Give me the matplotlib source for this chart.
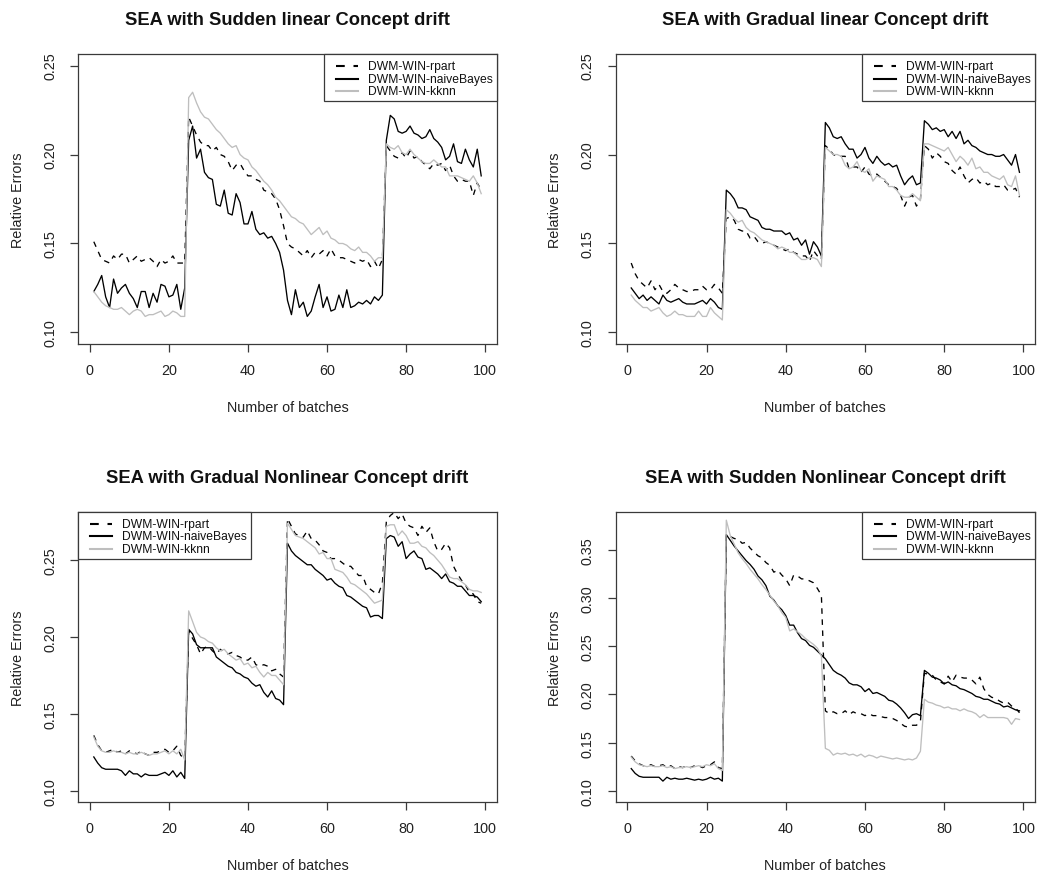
import numpy as np
import matplotlib
matplotlib.use("Agg")
import matplotlib.pyplot as plt
from matplotlib.patches import Rectangle
from matplotlib.lines import Line2D

plt.rcParams['font.family'] = ['Liberation Sans', 'DejaVu Sans']

# ---------------------------------------------------------------- data
batches = np.arange(1, 100)
series_names = ["DWM-WIN-rpart", "DWM-WIN-naiveBayes", "DWM-WIN-kknn"]

sudden_linear_rpart = [
    0.151, 0.146, 0.141, 0.140, 0.139, 0.143, 0.141, 0.144, 0.144, 0.139, 0.141, 0.143,
    0.140, 0.141, 0.142, 0.140, 0.137, 0.141, 0.139, 0.140, 0.143, 0.139, 0.139, 0.139,
    0.221, 0.216, 0.211, 0.207, 0.205, 0.205, 0.202, 0.204, 0.200, 0.199, 0.196, 0.191,
    0.194, 0.195, 0.191, 0.188, 0.188, 0.186, 0.185, 0.180, 0.179, 0.178, 0.175, 0.169, 0.160,
    0.150, 0.148, 0.147, 0.145, 0.143, 0.146, 0.142, 0.145, 0.144, 0.146, 0.143, 0.147,
    0.143, 0.142, 0.142, 0.141, 0.140, 0.139, 0.141, 0.140, 0.141, 0.137, 0.140, 0.136, 0.141,
    0.205, 0.202, 0.199, 0.198, 0.201, 0.198, 0.202, 0.198, 0.199, 0.196, 0.194, 0.192,
    0.195, 0.194, 0.195, 0.191, 0.194, 0.188, 0.185, 0.186, 0.185, 0.185, 0.177, 0.184, 0.180]
sudden_linear_nb = [
    0.123, 0.127, 0.132, 0.120, 0.114, 0.130, 0.122, 0.125, 0.127, 0.122, 0.119, 0.114,
    0.123, 0.123, 0.114, 0.122, 0.117, 0.127, 0.126, 0.120, 0.121, 0.127, 0.113, 0.125,
    0.208, 0.216, 0.198, 0.203, 0.190, 0.187, 0.186, 0.172, 0.171, 0.180, 0.167, 0.166,
    0.178, 0.173, 0.161, 0.161, 0.168, 0.158, 0.155, 0.156, 0.153, 0.154, 0.150, 0.145, 0.135,
    0.118, 0.110, 0.124, 0.114, 0.117, 0.109, 0.112, 0.120, 0.127, 0.114, 0.120, 0.112,
    0.113, 0.121, 0.114, 0.124, 0.114, 0.115, 0.117, 0.116, 0.118, 0.116, 0.120, 0.118, 0.121,
    0.208, 0.222, 0.220, 0.213, 0.212, 0.213, 0.216, 0.212, 0.211, 0.209, 0.210, 0.214,
    0.209, 0.207, 0.204, 0.197, 0.199, 0.206, 0.196, 0.195, 0.203, 0.197, 0.193, 0.203, 0.188]
sudden_linear_kknn = [
    0.123, 0.120, 0.117, 0.115, 0.114, 0.113, 0.113, 0.114, 0.112, 0.110, 0.112, 0.113,
    0.112, 0.109, 0.110, 0.110, 0.111, 0.112, 0.109, 0.110, 0.112, 0.111, 0.109, 0.109,
    0.232, 0.235, 0.229, 0.224, 0.221, 0.220, 0.217, 0.214, 0.212, 0.209, 0.206, 0.204,
    0.205, 0.200, 0.198, 0.197, 0.193, 0.191, 0.188, 0.185, 0.183, 0.180, 0.176, 0.174, 0.171,
    0.168, 0.165, 0.164, 0.162, 0.161, 0.158, 0.155, 0.157, 0.159, 0.155, 0.157, 0.153,
    0.152, 0.150, 0.150, 0.149, 0.147, 0.146, 0.148, 0.145, 0.145, 0.143, 0.140, 0.142, 0.142,
    0.206, 0.204, 0.203, 0.205, 0.201, 0.200, 0.203, 0.200, 0.198, 0.196, 0.195, 0.195,
    0.197, 0.195, 0.193, 0.193, 0.188, 0.188, 0.188, 0.187, 0.186, 0.185, 0.188, 0.184, 0.178]

gradual_linear_rpart = [
    0.139, 0.133, 0.129, 0.127, 0.125, 0.129, 0.124, 0.127, 0.123, 0.122, 0.124, 0.127,
    0.125, 0.124, 0.123, 0.123, 0.124, 0.124, 0.126, 0.124, 0.124, 0.127, 0.125, 0.122,
    0.164, 0.165, 0.163, 0.158, 0.157, 0.157, 0.153, 0.154, 0.151, 0.150, 0.151, 0.150,
    0.149, 0.148, 0.147, 0.146, 0.147, 0.145, 0.144, 0.143, 0.143, 0.140, 0.146, 0.143, 0.141,
    0.205, 0.203, 0.200, 0.199, 0.199, 0.199, 0.192, 0.193, 0.193, 0.190, 0.193, 0.189,
    0.188, 0.189, 0.187, 0.185, 0.183, 0.182, 0.181, 0.177, 0.171, 0.176, 0.177, 0.171, 0.175,
    0.205, 0.203, 0.198, 0.201, 0.199, 0.196, 0.195, 0.191, 0.189, 0.193, 0.188, 0.184,
    0.186, 0.187, 0.184, 0.185, 0.183, 0.184, 0.182, 0.182, 0.183, 0.180, 0.180, 0.181, 0.176]
gradual_linear_nb = [
    0.125, 0.122, 0.119, 0.121, 0.118, 0.120, 0.118, 0.116, 0.121, 0.118, 0.117, 0.118,
    0.119, 0.117, 0.116, 0.116, 0.116, 0.117, 0.118, 0.116, 0.119, 0.117, 0.114, 0.113,
    0.180, 0.178, 0.175, 0.170, 0.170, 0.169, 0.165, 0.164, 0.163, 0.159, 0.158, 0.158,
    0.157, 0.157, 0.157, 0.155, 0.156, 0.152, 0.153, 0.149, 0.152, 0.144, 0.151, 0.148, 0.143,
    0.218, 0.215, 0.210, 0.209, 0.210, 0.206, 0.203, 0.203, 0.198, 0.200, 0.204, 0.198,
    0.195, 0.199, 0.196, 0.194, 0.195, 0.193, 0.194, 0.188, 0.183, 0.186, 0.188, 0.183, 0.184,
    0.219, 0.217, 0.214, 0.215, 0.213, 0.214, 0.210, 0.213, 0.209, 0.213, 0.206, 0.208,
    0.205, 0.204, 0.202, 0.201, 0.200, 0.200, 0.199, 0.199, 0.200, 0.197, 0.194, 0.200, 0.190]
gradual_linear_kknn = [
    0.121, 0.118, 0.116, 0.114, 0.114, 0.112, 0.113, 0.114, 0.111, 0.109, 0.110, 0.112,
    0.110, 0.110, 0.109, 0.109, 0.109, 0.112, 0.109, 0.109, 0.114, 0.111, 0.109, 0.107,
    0.169, 0.167, 0.164, 0.162, 0.163, 0.159, 0.157, 0.156, 0.154, 0.152, 0.151, 0.150,
    0.149, 0.147, 0.148, 0.147, 0.145, 0.145, 0.143, 0.141, 0.141, 0.142, 0.142, 0.141, 0.137,
    0.204, 0.202, 0.200, 0.200, 0.199, 0.194, 0.192, 0.193, 0.196, 0.191, 0.190, 0.192,
    0.185, 0.188, 0.187, 0.186, 0.182, 0.182, 0.180, 0.177, 0.176, 0.176, 0.178, 0.176, 0.174,
    0.206, 0.206, 0.205, 0.204, 0.203, 0.202, 0.204, 0.200, 0.196, 0.199, 0.197, 0.194,
    0.198, 0.192, 0.193, 0.190, 0.190, 0.188, 0.187, 0.186, 0.188, 0.183, 0.182, 0.188, 0.177]

gradual_nonlinear_rpart = [
    0.136, 0.130, 0.126, 0.125, 0.126, 0.127, 0.125, 0.126, 0.124, 0.126, 0.125, 0.124,
    0.126, 0.124, 0.123, 0.125, 0.125, 0.126, 0.127, 0.125, 0.126, 0.129, 0.123, 0.121,
    0.204, 0.199, 0.195, 0.189, 0.193, 0.194, 0.191, 0.189, 0.192, 0.190, 0.189, 0.190,
    0.188, 0.187, 0.185, 0.185, 0.187, 0.182, 0.181, 0.182, 0.181, 0.178, 0.179, 0.176, 0.174,
    0.277, 0.272, 0.267, 0.266, 0.265, 0.269, 0.264, 0.263, 0.260, 0.256, 0.255, 0.251,
    0.251, 0.250, 0.248, 0.246, 0.246, 0.243, 0.240, 0.240, 0.233, 0.231, 0.229, 0.228, 0.235,
    0.275, 0.279, 0.281, 0.277, 0.280, 0.274, 0.272, 0.271, 0.266, 0.272, 0.268, 0.271,
    0.262, 0.256, 0.257, 0.261, 0.258, 0.246, 0.241, 0.237, 0.234, 0.229, 0.228, 0.223, 0.222]
gradual_nonlinear_nb = [
    0.122, 0.118, 0.115, 0.114, 0.114, 0.114, 0.114, 0.113, 0.110, 0.113, 0.111, 0.111,
    0.109, 0.111, 0.110, 0.110, 0.110, 0.111, 0.112, 0.110, 0.113, 0.109, 0.112, 0.108,
    0.205, 0.202, 0.195, 0.193, 0.193, 0.193, 0.193, 0.187, 0.185, 0.183, 0.181, 0.180,
    0.177, 0.176, 0.174, 0.173, 0.170, 0.168, 0.169, 0.164, 0.161, 0.165, 0.160, 0.159, 0.156,
    0.261, 0.256, 0.253, 0.251, 0.249, 0.247, 0.247, 0.244, 0.242, 0.240, 0.237, 0.238,
    0.235, 0.233, 0.232, 0.227, 0.226, 0.224, 0.222, 0.220, 0.219, 0.213, 0.214, 0.214, 0.212,
    0.264, 0.266, 0.265, 0.259, 0.262, 0.251, 0.254, 0.256, 0.252, 0.251, 0.244, 0.245,
    0.243, 0.241, 0.238, 0.241, 0.236, 0.235, 0.233, 0.233, 0.230, 0.227, 0.227, 0.226, 0.223]
gradual_nonlinear_kknn = [
    0.135, 0.129, 0.126, 0.125, 0.125, 0.126, 0.125, 0.125, 0.124, 0.125, 0.124, 0.124,
    0.125, 0.124, 0.123, 0.124, 0.124, 0.125, 0.126, 0.124, 0.126, 0.124, 0.127, 0.120,
    0.217, 0.210, 0.203, 0.200, 0.199, 0.197, 0.196, 0.193, 0.191, 0.192, 0.189, 0.187,
    0.185, 0.186, 0.182, 0.183, 0.180, 0.181, 0.177, 0.174, 0.177, 0.175, 0.175, 0.172, 0.169,
    0.274, 0.270, 0.266, 0.265, 0.264, 0.262, 0.260, 0.258, 0.254, 0.255, 0.251, 0.251,
    0.244, 0.243, 0.242, 0.239, 0.235, 0.234, 0.232, 0.230, 0.228, 0.225, 0.222, 0.223, 0.224,
    0.272, 0.273, 0.273, 0.266, 0.269, 0.266, 0.261, 0.261, 0.262, 0.259, 0.258, 0.255,
    0.253, 0.250, 0.247, 0.243, 0.239, 0.238, 0.238, 0.236, 0.234, 0.231, 0.230, 0.230, 0.229]

sudden_nonlinear_rpart = [
    0.136, 0.131, 0.128, 0.126, 0.126, 0.127, 0.125, 0.126, 0.127, 0.124, 0.126, 0.123,
    0.125, 0.124, 0.126, 0.124, 0.126, 0.126, 0.124, 0.126, 0.127, 0.130, 0.124, 0.123,
    0.366, 0.364, 0.362, 0.361, 0.357, 0.358, 0.352, 0.348, 0.344, 0.342, 0.337, 0.334,
    0.327, 0.329, 0.324, 0.320, 0.313, 0.324, 0.323, 0.320, 0.320, 0.318, 0.316, 0.310, 0.303,
    0.183, 0.180, 0.182, 0.180, 0.180, 0.183, 0.179, 0.182, 0.180, 0.180, 0.178, 0.180,
    0.178, 0.178, 0.177, 0.176, 0.176, 0.175, 0.173, 0.170, 0.167, 0.166, 0.168, 0.168, 0.172,
    0.222, 0.221, 0.220, 0.215, 0.213, 0.211, 0.219, 0.213, 0.220, 0.218, 0.217, 0.217,
    0.215, 0.211, 0.218, 0.206, 0.200, 0.197, 0.196, 0.193, 0.191, 0.192, 0.188, 0.186, 0.181]
sudden_nonlinear_nb = [
    0.123, 0.118, 0.115, 0.114, 0.114, 0.114, 0.114, 0.114, 0.110, 0.114, 0.112, 0.113,
    0.112, 0.112, 0.113, 0.112, 0.111, 0.112, 0.111, 0.112, 0.114, 0.112, 0.113, 0.110,
    0.366, 0.360, 0.354, 0.349, 0.344, 0.339, 0.335, 0.330, 0.323, 0.319, 0.313, 0.302,
    0.298, 0.292, 0.288, 0.282, 0.272, 0.272, 0.264, 0.258, 0.256, 0.251, 0.249, 0.245, 0.241,
    0.237, 0.231, 0.225, 0.222, 0.220, 0.217, 0.212, 0.210, 0.210, 0.208, 0.203, 0.206,
    0.201, 0.202, 0.200, 0.198, 0.194, 0.193, 0.190, 0.186, 0.181, 0.175, 0.179, 0.180, 0.178,
    0.225, 0.222, 0.218, 0.217, 0.215, 0.211, 0.213, 0.210, 0.209, 0.206, 0.205, 0.203,
    0.201, 0.198, 0.197, 0.195, 0.195, 0.193, 0.191, 0.190, 0.187, 0.188, 0.186, 0.184, 0.183]
sudden_nonlinear_kknn = [
    0.135, 0.130, 0.127, 0.126, 0.125, 0.126, 0.125, 0.125, 0.126, 0.124, 0.125, 0.123,
    0.124, 0.124, 0.125, 0.124, 0.125, 0.126, 0.125, 0.127, 0.126, 0.128, 0.123, 0.121,
    0.381, 0.365, 0.356, 0.347, 0.341, 0.336, 0.330, 0.325, 0.320, 0.314, 0.309, 0.303,
    0.297, 0.292, 0.285, 0.280, 0.266, 0.268, 0.265, 0.262, 0.258, 0.255, 0.252, 0.248, 0.240,
    0.144, 0.142, 0.137, 0.139, 0.138, 0.139, 0.137, 0.138, 0.136, 0.138, 0.135, 0.137,
    0.136, 0.134, 0.136, 0.135, 0.134, 0.133, 0.134, 0.133, 0.132, 0.133, 0.132, 0.134, 0.141,
    0.195, 0.192, 0.191, 0.189, 0.188, 0.186, 0.187, 0.185, 0.185, 0.183, 0.185, 0.183,
    0.182, 0.180, 0.176, 0.179, 0.176, 0.176, 0.176, 0.176, 0.176, 0.175, 0.169, 0.175, 0.174]

titles = ["SEA with Sudden linear Concept drift",
          "SEA with Gradual linear Concept drift",
          "SEA with Gradual Nonlinear Concept drift",
          "SEA with Sudden Nonlinear Concept drift"]
x_ticks = [0, 20, 40, 60, 80, 100]
y_ticks_top = [0.10, 0.15, 0.20, 0.25]
y_ticks_sudden_nonlinear = [0.10, 0.15, 0.20, 0.25, 0.30, 0.35]

# ---------------------------------------------------------------- layout (pixels)
W, H = 1037, 878
fig = plt.figure(figsize=(W / 100, H / 100), dpi=100)
fig.patch.set_facecolor("white")

FRAME = "#3a3a3a"
GREY = "#bebebe"
LW = 0.95
DASH = (0, (4.2, 4.2))


def px_rect(l, t, r, b):
    return [l / W, 1 - b / H, (r - l) / W, (b - t) / H]


def fx(x):
    return x / W


def fy(y):
    return 1 - y / H


panels = [
    dict(rect=(78.3, 55, 496.7, 345), ylim=(0.0935, 0.2565), yticks=y_ticks_top,
         data=(sudden_linear_rpart, sudden_linear_nb, sudden_linear_kknn),
         legend=(323.7, 55)),
    dict(rect=(615.7, 55, 1035, 345), ylim=(0.0935, 0.2565), yticks=y_ticks_top,
         data=(gradual_linear_rpart, gradual_linear_nb, gradual_linear_kknn),
         legend=(862, 55)),
    dict(rect=(78.3, 512.7, 496.7, 803), ylim=(0.0927, 0.2815), yticks=y_ticks_top,
         data=(gradual_nonlinear_rpart, gradual_nonlinear_nb, gradual_nonlinear_kknn),
         legend=(78.3, 512.7)),
    dict(rect=(615.7, 512.7, 1035, 803), ylim=(0.0883, 0.3898),
         yticks=y_ticks_sudden_nonlinear,
         data=(sudden_nonlinear_rpart, sudden_nonlinear_nb, sudden_nonlinear_kknn),
         legend=(862, 512.7)),
]

styles = [dict(color="black", linestyle=DASH),
          dict(color="black", linestyle="-"),
          dict(color=GREY, linestyle="-")]


def draw_legend(left, top):
    bw, bh = 173, 47
    fig.add_artist(Rectangle((fx(left), fy(top + bh)), bw / W, bh / H,
                             transform=fig.transFigure, facecolor="white",
                             edgecolor=FRAME, linewidth=0.9, zorder=5))
    for row, (name, st) in enumerate(zip(series_names, styles)):
        yy = fy(top + 12 + 12.5 * row)
        fig.add_artist(Line2D([fx(left + 12), fx(left + 34)], [yy, yy],
                              transform=fig.transFigure, linewidth=1.5,
                              zorder=6, **st))
        fig.text(fx(left + 44), yy, name, fontsize=8.7, va="center", ha="left",
                 color="#111111", zorder=6)


for p, title in zip(panels, titles):
    l, t, r, b = p["rect"]
    ax = fig.add_axes(px_rect(l, t, r, b))
    for series, st in zip(p["data"], styles):
        ax.plot(batches, series, linewidth=LW, **st)
    ax.set_xlim(-2.92, 102.92)
    ax.set_ylim(*p["ylim"])
    ax.set_xticks(x_ticks)
    ax.set_xticklabels([str(v) for v in x_ticks])
    ax.set_yticks(p["yticks"])
    ax.set_yticklabels([f"{v:.2f}" for v in p["yticks"]], rotation=90, va="center")
    for sp in ax.spines.values():
        sp.set_color(FRAME)
        sp.set_linewidth(0.9)
    ax.tick_params(axis="both", direction="out", length=5.8, width=0.9,
                   color=FRAME, labelcolor="#222222", labelsize=10.4)
    ax.tick_params(axis="x", pad=8)
    ax.tick_params(axis="y", pad=9.5)
    h = b - t
    w = r - l
    ax.text(0.5, (b - (t - 34.5)) / h, title, transform=ax.transAxes, ha="center",
            va="center", fontsize=13.2, fontweight="bold", color="#111111")
    ax.text(0.5, -(63 / h), "Number of batches", transform=ax.transAxes,
            ha="center", va="center", fontsize=10.4, color="#222222")
    ax.text(-(60.5 / w), 0.5, "Relative Errors", transform=ax.transAxes,
            ha="center", va="center", rotation=90, fontsize=10.4, color="#222222")
    draw_legend(*p["legend"])

fig.savefig("out.png", dpi=100, facecolor="white")
